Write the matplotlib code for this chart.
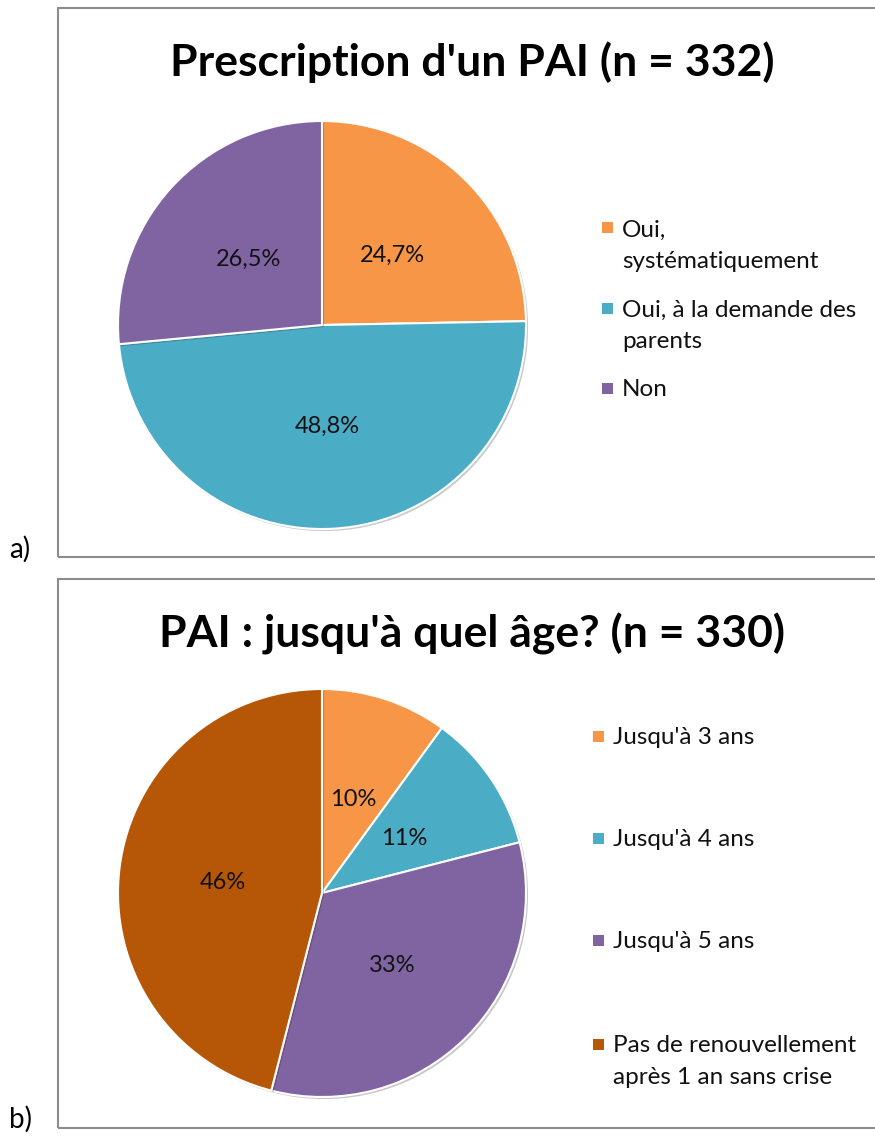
import matplotlib
matplotlib.use("Agg")
import matplotlib.pyplot as plt
from matplotlib.patches import Rectangle
import matplotlib.patheffects as pe
import numpy as np

plt.rcParams['font.family'] = ['Lato', 'DejaVu Sans']

# ---- data ----
title_a = "Prescription d'un PAI (n = 332)"
labels_a = ["Oui,\nsystématiquement", "Oui, à la demande des\nparents", "Non"]
values_a = [24.7, 48.8, 26.5]
pct_a = ["24,7%", "48,8%", "26,5%"]

title_b = "PAI : jusqu'à quel âge? (n = 330)"
labels_b = ["Jusqu'à 3 ans", "Jusqu'à 4 ans", "Jusqu'à 5 ans",
            "Pas de renouvellement\naprès 1 an sans crise"]
values_b = [10, 11, 33, 46]
pct_b = ["10%", "11%", "33%", "46%"]

colors_a = ["#F79646", "#4BACC6", "#8064A2"]
colors_b = ["#F79646", "#4BACC6", "#8064A2", "#B65708"]

W, H = 875, 1136
fig = plt.figure(figsize=(W / 100, H / 100), dpi=100)

def fx(px):
    return px / W

def fy(py):
    return 1 - py / H

# panel frames
for top, bot in [(8, 557), (579, 1128)]:
    fig.patches.append(Rectangle((fx(58), fy(bot)), fx(W + 20) - fx(58), fy(top) - fy(bot),
                                 transform=fig.transFigure, fill=False,
                                 edgecolor="#8C8C8C", linewidth=1.5))

fig.text(fx(9), fy(549), "a)", fontsize=20, va="center", ha="left")
fig.text(fx(9), fy(1119), "b)", fontsize=20, va="center", ha="left")

fig.text(fx(472), fy(62), title_a, fontsize=32, fontweight="bold", ha="center", va="center")
fig.text(fx(472), fy(634), title_b, fontsize=32, fontweight="bold", ha="center", va="center")

R = 204

def draw_pie(cx, cy, values, colors, pcts):
    ax = fig.add_axes([fx(cx - R), fy(cy + R), 2 * R / W, 2 * R / H])
    wedges, _ = ax.pie(values, colors=colors, startangle=90, counterclock=False,
                       radius=1, wedgeprops=dict(edgecolor="white", linewidth=1.5))
    for w in wedges:
        w.set_clip_on(False)
        w.set_path_effects([pe.SimplePatchShadow(offset=(1.5, -1.5), alpha=0.25), pe.Normal()])
    for w, t in zip(wedges, pcts):
        ang = np.deg2rad((w.theta1 + w.theta2) / 2)
        ax.text(0.49 * np.cos(ang), 0.49 * np.sin(ang), t, ha="center", va="center_baseline",
                fontsize=17, color="#111111")
    ax.set_xlim(-1.0, 1.0)
    ax.set_ylim(-1.0, 1.0)
    ax.set_aspect("equal")
    ax.axis("off")

draw_pie(322, 325, values_a, colors_a, pct_a)
draw_pie(322, 893, values_b, colors_b, pct_b)

def draw_legend(x_sq, x_txt, ys, labels, colors, sq=11, lh=32):
    for y, lab, c in zip(ys, labels, colors):
        fig.patches.append(Rectangle((fx(x_sq), fy(y + sq / 2)), sq / W, sq / H,
                                     transform=fig.transFigure, facecolor=c,
                                     edgecolor="none"))
        for i, line in enumerate(lab.split("\n")):
            fig.text(fx(x_txt), fy(y + i * lh), line, fontsize=17.5, ha="left",
                     va="center_baseline", color="#111111")

draw_legend(602, 622, [228, 308, 388], labels_a, colors_a)
draw_legend(593, 613, [736, 838, 940, 1044], labels_b, colors_b)

fig.savefig("out.png", dpi=100, facecolor="white")
